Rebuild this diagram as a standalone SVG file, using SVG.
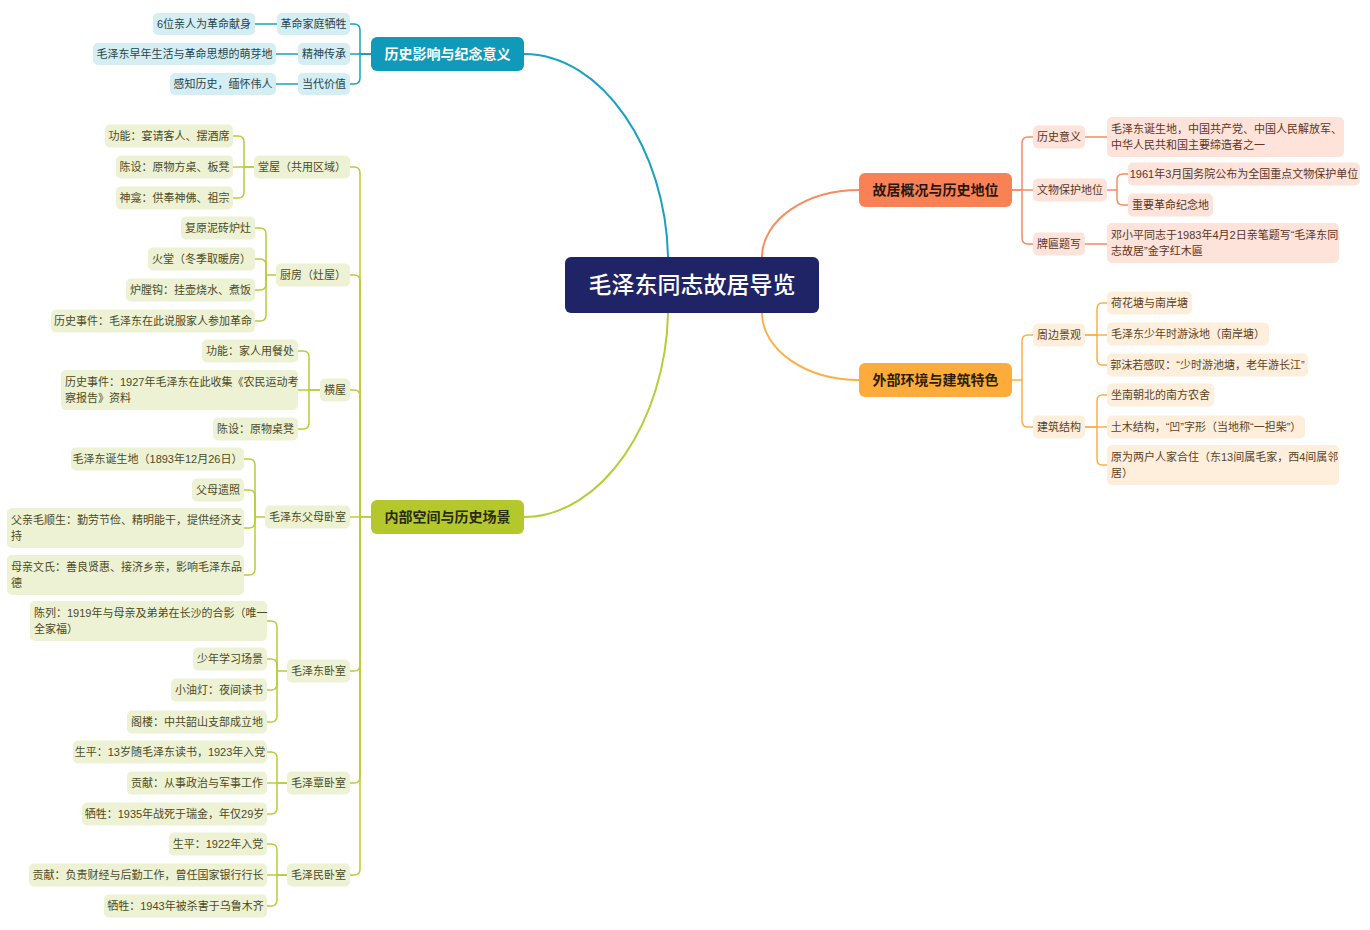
<svg xmlns="http://www.w3.org/2000/svg" width="1370" height="930" viewBox="0 0 1370 930">
<style>
text{font-family:"Liberation Sans","Noto Sans CJK SC",sans-serif;font-size:11px;dominant-baseline:central}
.m{text-anchor:middle}
.tl{fill:#d4eef4}.tt{fill:#27434c}
.gl{fill:#eef2d5}.gt{fill:#4b4a26}
.cl{fill:#fde3d9}.ct{fill:#5b3527}
.ol{fill:#fdefdb}.ot{fill:#5c4224}
.main{font-size:14px;font-weight:bold;text-anchor:middle}
.title{font-size:23px;font-weight:500;text-anchor:middle;fill:#ffffff}
.ln{fill:none;stroke-width:1.5}
.thick{fill:none;stroke-width:2}
.lt{stroke:#1aa0c0}.lg{stroke:#b8cc38}.lc{stroke:#f98a61}.lo{stroke:#fdae45}
</style>
<rect width="1370" height="930" fill="#ffffff"/>
<g id="connectors">
<path class="thick lt" d="M668,257 C666,150 602,54 524,54"/>
<path class="thick lg" d="M668,313 C666,420 602,517 524,517"/>
<path class="thick lc" d="M762,257 C762,220 806,190 859,190"/>
<path class="thick lo" d="M762,313 C762,350 806,380 859,380"/>
<g class="ln lt">
<path d="M350,24 H354 Q360,24 360,30 V54 H371"/><path d="M350,54 H371"/><path d="M350,84 H354 Q360,84 360,78 V54 H371"/>
<path d="M255,24 H277"/><path d="M276,54 H298"/><path d="M276,84 H298"/>
</g>
<g class="ln lg">
<path d="M350,167 H354 Q360,167 360,173 V517 H371"/><path d="M350,275 H354 Q360,275 360,281 V517"/><path d="M350,390 H354 Q360,390 360,396 V517"/><path d="M350,517 H371"/><path d="M350,671 H354 Q360,671 360,665 V517"/><path d="M350,783 H354 Q360,783 360,777 V517"/><path d="M350,875 H354 Q360,875 360,869 V517"/>
<path d="M233,136 H238 Q244,136 244,142 V167 H254"/><path d="M233,167 H254"/><path d="M233,198 H238 Q244,198 244,192 V167"/>
<path d="M255,228 H260 Q266,228 266,234 V275 H276"/><path d="M255,259 H260 Q266,259 266,265 V275"/><path d="M255,290 H260 Q266,290 266,284 V275"/><path d="M255,321 H260 Q266,321 266,315 V275"/>
<path d="M298,351 H303 Q309,351 309,357 V390 H320"/><path d="M298,390 H320"/><path d="M298,429 H303 Q309,429 309,423 V390"/>
<path d="M244,459 H249 Q255,459 255,465 V517 H265"/><path d="M244,490 H249 Q255,490 255,496 V517"/><path d="M244,528 H249 Q255,528 255,522 V517"/><path d="M244,575 H249 Q255,575 255,569 V517"/>
<path d="M267,621 H271 Q277,621 277,627 V671 H287"/><path d="M267,659 H271 Q277,659 277,665 V671"/><path d="M267,690 H271 Q277,690 277,684 V671"/><path d="M267,722 H271 Q277,722 277,716 V671"/>
<path d="M267,752 H271 Q277,752 277,758 V783 H287"/><path d="M267,783 H287"/><path d="M267,814 H271 Q277,814 277,808 V783"/>
<path d="M267,844 H271 Q277,844 277,850 V875 H287"/><path d="M267,875 H287"/><path d="M267,906 H271 Q277,906 277,900 V875"/>
</g>
<g class="ln lc">
<path d="M1033,137 H1028 Q1022,137 1022,143 V190 H1012"/><path d="M1033,190 H1012"/><path d="M1033,244 H1028 Q1022,244 1022,238 V190"/>
<path d="M1085,137 H1107"/><path d="M1085,244 H1107"/>
<path d="M1128,174 H1123 Q1117,174 1117,180 V190 H1107"/><path d="M1128,205 H1123 Q1117,205 1117,199 V190"/>
</g>
<g class="ln lo">
<path d="M1033,335 H1028 Q1022,335 1022,341 V380 H1012"/><path d="M1033,427 H1028 Q1022,427 1022,421 V380"/>
<path d="M1107,303 H1102 Q1097,303 1097,309 V335 H1085"/><path d="M1107,335 H1085"/><path d="M1107,365 H1102 Q1097,365 1097,359 V335"/>
<path d="M1107,395 H1102 Q1097,395 1097,401 V427 H1085"/><path d="M1107,427 H1085"/><path d="M1107,465 H1102 Q1097,465 1097,459 V427"/>
</g>
</g>

<g id="center"><rect x="565" y="257" width="254" height="56" rx="6" fill="#1f2466"/><text x="692" y="285" class="title">毛泽东同志故居导览</text></g>

<!-- teal branch -->
<g id="b1"><rect x="371" y="37" width="153" height="34" rx="6" fill="#0e9ab8"/><text x="447.5" y="54" class="main" fill="#ffffff">历史影响与纪念意义</text></g>
<g id="b1c1"><rect class="tl" x="277" y="13" width="73" height="22" rx="5"/><text class="tt m" x="313.5" y="24">革命家庭牺牲</text></g>
<g id="b1c2"><rect class="tl" x="298" y="43" width="52" height="22" rx="5"/><text class="tt m" x="324" y="54">精神传承</text></g>
<g id="b1c3"><rect class="tl" x="298" y="73" width="52" height="22" rx="5"/><text class="tt m" x="324" y="84">当代价值</text></g>
<g id="b1l1"><rect class="tl" x="153" y="13" width="102" height="22" rx="5"/><text class="tt m" x="204" y="24">6位亲人为革命献身</text></g>
<g id="b1l2"><rect class="tl" x="93" y="43" width="183" height="22" rx="5"/><text class="tt m" x="184.5" y="54">毛泽东早年生活与革命思想的萌芽地</text></g>
<g id="b1l3"><rect class="tl" x="170" y="73" width="106" height="22" rx="5"/><text class="tt m" x="223" y="84">感知历史，缅怀伟人</text></g>

<!-- green branch -->
<g id="b2"><rect x="371" y="500" width="153" height="34" rx="6" fill="#b5c82b"/><text x="447.5" y="517" class="main" fill="#2a2a10">内部空间与历史场景</text></g>
<g id="g1"><rect class="gl" x="254" y="155.5" width="96" height="23" rx="5"/><text class="gt m" x="302" y="167">堂屋（共用区域）</text></g>
<g id="g2"><rect class="gl" x="276" y="263.5" width="74" height="23" rx="5"/><text class="gt m" x="313" y="275">厨房（灶屋）</text></g>
<g id="g3"><rect class="gl" x="320" y="378.5" width="30" height="23" rx="5"/><text class="gt m" x="335" y="390">横屋</text></g>
<g id="g4"><rect class="gl" x="265" y="505.5" width="85" height="23" rx="5"/><text class="gt m" x="307.5" y="517">毛泽东父母卧室</text></g>
<g id="g5"><rect class="gl" x="287" y="659.5" width="63" height="23" rx="5"/><text class="gt m" x="318.5" y="671">毛泽东卧室</text></g>
<g id="g6"><rect class="gl" x="287" y="771.5" width="63" height="23" rx="5"/><text class="gt m" x="318.5" y="783">毛泽覃卧室</text></g>
<g id="g7"><rect class="gl" x="287" y="863.5" width="63" height="23" rx="5"/><text class="gt m" x="318.5" y="875">毛泽民卧室</text></g>

<g id="g1a"><rect class="gl" x="105" y="124.5" width="128" height="23" rx="5"/><text class="gt m" x="169" y="136">功能：宴请客人、摆酒席</text></g>
<g id="g1b"><rect class="gl" x="116" y="155.5" width="117" height="23" rx="5"/><text class="gt m" x="174.5" y="167">陈设：原物方桌、板凳</text></g>
<g id="g1c"><rect class="gl" x="116" y="186.5" width="117" height="23" rx="5"/><text class="gt m" x="174.5" y="198">神龛：供奉神佛、祖宗</text></g>

<g id="g2a"><rect class="gl" x="181" y="216.5" width="74" height="23" rx="5"/><text class="gt m" x="218" y="228">复原泥砖炉灶</text></g>
<g id="g2b"><rect class="gl" x="148" y="247.5" width="107" height="23" rx="5"/><text class="gt m" x="201.5" y="259">火堂（冬季取暖房）</text></g>
<g id="g2c"><rect class="gl" x="126" y="278.5" width="129" height="23" rx="5"/><text class="gt m" x="190.5" y="290">炉膛钩：挂壶烧水、煮饭</text></g>
<g id="g2d"><rect class="gl" x="51" y="309.5" width="204" height="23" rx="5"/><text class="gt m" x="153" y="321">历史事件：毛泽东在此说服家人参加革命</text></g>

<g id="g3a"><rect class="gl" x="202" y="339.5" width="96" height="23" rx="5"/><text class="gt m" x="250" y="351">功能：家人用餐处</text></g>
<g id="g3b"><rect class="gl" x="61" y="370" width="237" height="40" rx="5"/><text class="gt" x="65" y="382">历史事件：1927年毛泽东在此收集《农民运动考</text><text class="gt" x="65" y="398">察报告》资料</text></g>
<g id="g3c"><rect class="gl" x="213" y="417.5" width="85" height="23" rx="5"/><text class="gt m" x="255.5" y="429">陈设：原物桌凳</text></g>

<g id="g4a"><rect class="gl" x="71" y="447.5" width="173" height="23" rx="5"/><text class="gt m" x="157.5" y="459">毛泽东诞生地（1893年12月26日）</text></g>
<g id="g4b"><rect class="gl" x="192" y="478.5" width="52" height="23" rx="5"/><text class="gt m" x="218" y="490">父母遗照</text></g>
<g id="g4c"><rect class="gl" x="7" y="508" width="237" height="40" rx="5"/><text class="gt" x="11" y="520">父亲毛顺生：勤劳节俭、精明能干，提供经济支</text><text class="gt" x="11" y="536">持</text></g>
<g id="g4d"><rect class="gl" x="7" y="555" width="237" height="40" rx="5"/><text class="gt" x="11" y="567">母亲文氏：善良贤惠、接济乡亲，影响毛泽东品</text><text class="gt" x="11" y="583">德</text></g>

<g id="g5a"><rect class="gl" x="30" y="601" width="237" height="40" rx="5"/><text class="gt" x="34" y="613">陈列：1919年与母亲及弟弟在长沙的合影（唯一</text><text class="gt" x="34" y="629">全家福）</text></g>
<g id="g5b"><rect class="gl" x="193" y="647.5" width="74" height="23" rx="5"/><text class="gt m" x="230" y="659">少年学习场景</text></g>
<g id="g5c"><rect class="gl" x="171" y="678.5" width="96" height="23" rx="5"/><text class="gt m" x="219" y="690">小油灯：夜间读书</text></g>
<g id="g5d"><rect class="gl" x="127" y="710.5" width="140" height="23" rx="5"/><text class="gt m" x="197" y="722">阁楼：中共韶山支部成立地</text></g>

<g id="g6a"><rect class="gl" x="73" y="740.5" width="194" height="23" rx="5"/><text class="gt m" x="170" y="752">生平：13岁随毛泽东读书，1923年入党</text></g>
<g id="g6b"><rect class="gl" x="127" y="771.5" width="140" height="23" rx="5"/><text class="gt m" x="197" y="783">贡献：从事政治与军事工作</text></g>
<g id="g6c"><rect class="gl" x="82" y="802.5" width="185" height="23" rx="5"/><text class="gt m" x="174.5" y="814">牺牲：1935年战死于瑞金，年仅29岁</text></g>

<g id="g7a"><rect class="gl" x="169" y="832.5" width="98" height="23" rx="5"/><text class="gt m" x="218" y="844">生平：1922年入党</text></g>
<g id="g7b"><rect class="gl" x="29" y="863.5" width="238" height="23" rx="5"/><text class="gt m" x="148" y="875">贡献：负责财经与后勤工作，曾任国家银行行长</text></g>
<g id="g7c"><rect class="gl" x="104" y="894.5" width="163" height="23" rx="5"/><text class="gt m" x="185.5" y="906">牺牲：1943年被杀害于乌鲁木齐</text></g>

<!-- coral branch -->
<g id="b3"><rect x="859" y="173" width="153" height="34" rx="6" fill="#f98155"/><text x="935.5" y="190" class="main" fill="#2b160d">故居概况与历史地位</text></g>
<g id="c1"><rect class="cl" x="1033" y="125.5" width="52" height="23" rx="5"/><text class="ct m" x="1059" y="137">历史意义</text></g>
<g id="c2"><rect class="cl" x="1033" y="178.5" width="74" height="23" rx="5"/><text class="ct m" x="1070" y="190">文物保护地位</text></g>
<g id="c3"><rect class="cl" x="1033" y="232.5" width="52" height="23" rx="5"/><text class="ct m" x="1059" y="244">牌匾题写</text></g>
<g id="c1a"><rect class="cl" x="1107" y="117" width="237" height="40" rx="5"/><text class="ct" x="1111" y="129">毛泽东诞生地，中国共产党、中国人民解放军、</text><text class="ct" x="1111" y="145">中华人民共和国主要缔造者之一</text></g>
<g id="c2a"><rect class="cl" x="1128" y="162.5" width="232" height="23" rx="5"/><text class="ct m" x="1244" y="174">1961年3月国务院公布为全国重点文物保护单位</text></g>
<g id="c2b"><rect class="cl" x="1128" y="193.5" width="85" height="23" rx="5"/><text class="ct m" x="1170.5" y="205">重要革命纪念地</text></g>
<g id="c3a"><rect class="cl" x="1107" y="223" width="232" height="40" rx="5"/><text class="ct" x="1111" y="235">邓小平同志于1983年4月2日亲笔题写“毛泽东同</text><text class="ct" x="1111" y="251">志故居”金字红木匾</text></g>

<!-- orange branch -->
<g id="b4"><rect x="859" y="363" width="153" height="34" rx="6" fill="#fdab3a"/><text x="935.5" y="380" class="main" fill="#2b1d08">外部环境与建筑特色</text></g>
<g id="o1"><rect class="ol" x="1033" y="323.5" width="52" height="23" rx="5"/><text class="ot m" x="1059" y="335">周边景观</text></g>
<g id="o2"><rect class="ol" x="1033" y="415.5" width="52" height="23" rx="5"/><text class="ot m" x="1059" y="427">建筑结构</text></g>
<g id="o1a"><rect class="ol" x="1107" y="291.5" width="85" height="23" rx="5"/><text class="ot m" x="1149.5" y="303">荷花塘与南岸塘</text></g>
<g id="o1b"><rect class="ol" x="1107" y="322.5" width="162" height="23" rx="5"/><text class="ot m" x="1188" y="334">毛泽东少年时游泳地（南岸塘）</text></g>
<g id="o1c"><rect class="ol" x="1107" y="353.5" width="201" height="23" rx="5"/><text class="ot m" x="1207.5" y="365">郭沫若感叹：“少时游池塘，老年游长江”</text></g>
<g id="o2a"><rect class="ol" x="1107" y="383.5" width="107" height="23" rx="5"/><text class="ot m" x="1160.5" y="395">坐南朝北的南方农舍</text></g>
<g id="o2b"><rect class="ol" x="1107" y="415.5" width="198" height="23" rx="5"/><text class="ot m" x="1206" y="427">土木结构，“凹”字形（当地称“一担柴”）</text></g>
<g id="o2c"><rect class="ol" x="1107" y="445" width="232" height="40" rx="5"/><text class="ot" x="1111" y="457">原为两户人家合住（东13间属毛家，西4间属邻</text><text class="ot" x="1111" y="473">居）</text></g>
</svg>
